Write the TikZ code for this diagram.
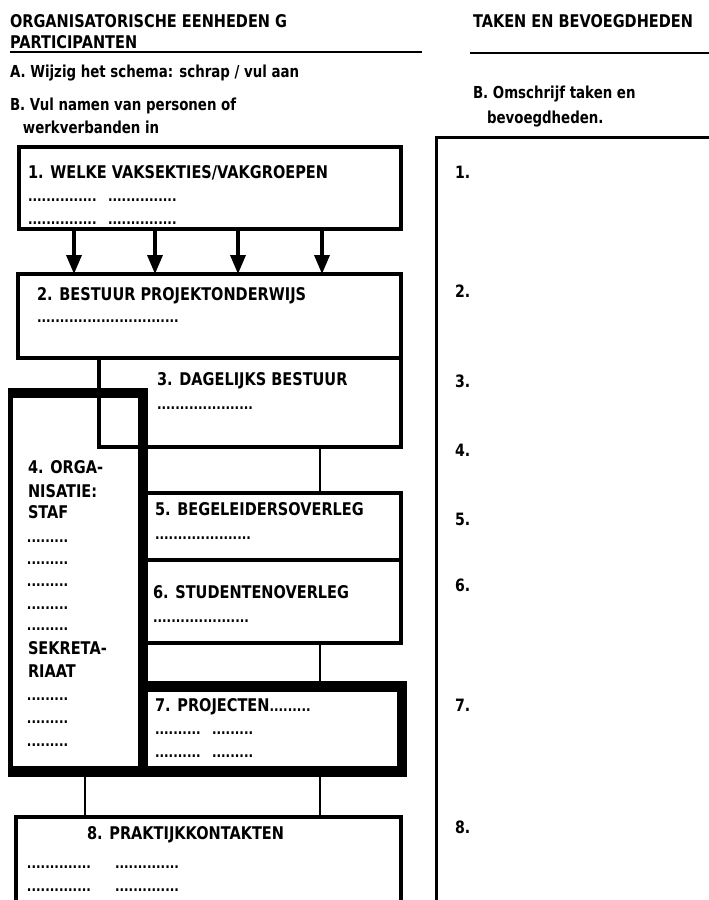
\documentclass[tikz,border=0pt]{standalone}
\usepackage{fontspec}
\setmainfont{DejaVu Sans}[FakeStretch=0.83]
\newfontfamily\instrfont{DejaVu Sans}[FakeStretch=0.81]
\usetikzlibrary{arrows.meta}

\begin{document}
\begin{tikzpicture}[x=1pt,y=-1pt,
  every node/.style={inner sep=0pt,outer sep=0pt},
  title/.style={anchor=base west,font=\fontsize{17.5}{21}\selectfont\bfseries},
  instr/.style={anchor=base west,font=\instrfont\fontsize{16.5}{20}\selectfont\bfseries},
  num/.style={anchor=base west,font=\fontsize{17}{20}\selectfont\bfseries},
  dotrow/.style={anchor=base west,font=\fontsize{14.5}{16}\selectfont\bfseries},
  unit/.style={draw,line width=3.5pt,anchor=north west,rectangle},
  inner/.style={anchor=north west,rectangle},
  conn/.style={line width=2.6pt},
  flow/.style={line width=3.5pt,-{Triangle[length=19pt,width=15pt]}},
  rule/.style={line width=2pt}]

\useasboundingbox (0,0) rectangle (709,900);
\clip (0,0) rectangle (709,900);

% ---- headings -------------------------------------------------------
\node[title] (hdA) at (10,27) {ORGANISATORISCHE EENHEDEN G};
\node[title] (hdB) at (10,48) {PARTICIPANTEN};
\draw[rule] (10,52) -- (422,52);
\node[title] (hdC) at (473,27) {TAKEN EN BEVOEGDHEDEN};
\draw[rule] (470,53) -- (712,53);

\node[instr] (insA)  at (10,77)  {A. Wijzig het schema: schrap / vul aan};
\node[instr] (insB)  at (10,110) {B. Vul namen van personen of};
\node[instr] (insB2) at (23,133) {werkverbanden in};
\node[instr] (insC)  at (473,98) {B. Omschrijf taken en};
\node[instr] (insC2) at (487,123) {bevoegdheden.};

% ---- thick frame round staff (4) and projects (7) -------------------
\node[inner,minimum width=125pt,minimum height=368pt] (org)  at (13,398) {};
\node[inner,minimum width=249pt,minimum height=74pt]  (proj) at (148,692) {};
\fill ([shift={(-5,-10)}]org.north west) rectangle ([shift={(10,11)}]org.south east);
\fill ([shift={(-10,-11)}]proj.north west) rectangle ([shift={(10,11)}]proj.south east);
\fill[white] (org.north west) rectangle (org.south east);
\fill[white] (proj.north west) rectangle (proj.south east);

% ---- unit boxes -----------------------------------------------------
\node[unit,minimum width=382pt,minimum height=82pt] (b1) at (19,147) {};
\node[unit,minimum width=383pt,minimum height=84pt] (b2) at (18,274) {};
\node[unit,minimum width=302pt,minimum height=89pt] (b3) at (99,358) {};
\node[unit,minimum width=256pt,minimum height=67pt] (b5) at (145,493) {};
\node[unit,minimum width=256pt,minimum height=83pt] (b6) at (145,560) {};
\node[unit,minimum width=385pt,minimum height=120pt] (b8) at (16,817) {};

% ---- connectors -----------------------------------------------------
\coordinate (ax1) at (74,0);
\coordinate (ax2) at (155,0);
\coordinate (ax3) at (238,0);
\coordinate (ax4) at (322,0);
\coordinate (cx)  at (320,0);
\coordinate (lx)  at (85,0);
\foreach \a in {ax1,ax2,ax3,ax4}
  \draw[flow] (b1.south -| \a) -- (b2.north -| \a);
\draw[conn] (b3.south -| cx) -- (b5.north -| cx);
\draw[conn] (b6.south -| cx) -- ([yshift=11pt]proj.north -| cx);
\draw[conn] ([yshift=-11pt]org.south -| lx) -- (b8.north -| lx);
\draw[conn] ([yshift=-11pt]proj.south -| cx) -- (b8.north -| cx);

% ---- box texts ------------------------------------------------------
\node[title] (t1) at (28,178) {1. WELKE VAKSEKTIES/VAKGROEPEN};
\node[dotrow] (d1a) at (28,201)  {...............};
\node[dotrow] (d1b) at (108,201) {...............};
\node[dotrow] (d1c) at (28,224)  {...............};
\node[dotrow] (d1d) at (108,224) {...............};

\node[title] (t2) at (37,300) {2. BESTUUR PROJEKTONDERWIJS};
\node[dotrow] (d2) at (37,322) {...............................};

\node[title] (t3) at (157,385) {3. DAGELIJKS BESTUUR};
\node[dotrow] (d3) at (157,409) {.....................};

\node[title] (t4a) at (28,473) {4. ORGA-};
\node[title] (t4b) at (28,497) {NISATIE:};
\node[title] (t4c) at (28,518) {STAF};
\foreach \y [count=\i] in {542,564,586,609,630}
  \node[dotrow] (d4s\i) at (27,\y) {.........};
\node[title] (t4d) at (28,654) {SEKRETA-};
\node[title] (t4e) at (28,677) {RIAAT};
\foreach \y [count=\i] in {700,723,746}
  \node[dotrow] (d4k\i) at (27,\y) {.........};

\node[title] (t5) at (155,515) {5. BEGELEIDERSOVERLEG};
\node[dotrow] (d5) at (155,539) {.....................};

\node[title] (t6) at (153,598) {6. STUDENTENOVERLEG};
\node[dotrow] (d6) at (153,622) {.....................};

\node[title] (t7) at (155,711) {7. PROJECTEN{\fontsize{14.5}{16}\selectfont .........}};
\node[dotrow] (d7a) at (155,734) {..........};
\node[dotrow] (d7b) at (212,734) {.........};
\node[dotrow] (d7c) at (155,757) {..........};
\node[dotrow] (d7d) at (212,757) {.........};

\node[title] (t8) at (87,839) {8. PRAKTIJKKONTAKTEN};
\node[dotrow] (d8a) at (27,868)  {..............};
\node[dotrow] (d8b) at (115,868) {..............};
\node[dotrow] (d8c) at (27,891)  {..............};
\node[dotrow] (d8d) at (115,891) {..............};

% ---- task column ----------------------------------------------------
\draw[line width=3pt] (712,137) -- (436,137) -- (436,905);
\foreach \y/\n in {178/1,297/2,387/3,456/4,525/5,591/6,711/7,833/8}
  \node[num] (n\n) at (455,\y) {\n.};
\end{tikzpicture}
\end{document}
